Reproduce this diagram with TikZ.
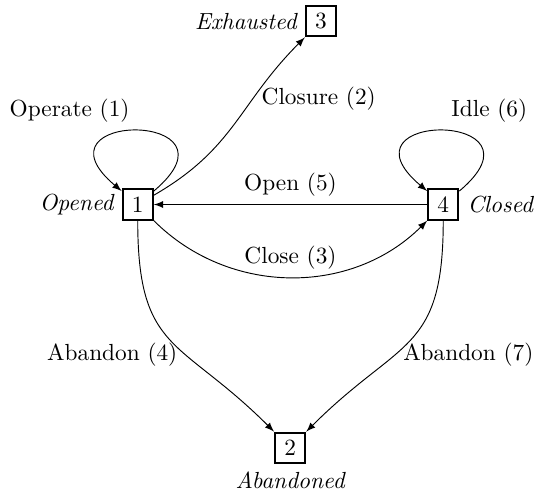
\documentclass[tikz,border=0pt]{standalone}
\usetikzlibrary{arrows,positioning}
\tikzset{statebox/.style={rectangle,draw,thick,minimum size=13pt,inner sep=0pt}}
\tikzset{tagname/.style={font=\itshape}}
\tikzset{trans/.style={draw,->,>=latex}}
\begin{document}
\begin{tikzpicture}[node distance=4.61cm]
    \useasboundingbox (-2.078,-4.323) rectangle (6.10,3.086);
    \node[statebox] (n1) {1};
    \node[statebox,right of=n1] (n4) {4};
    \node[statebox,above right of=n1,node distance=3.91cm] (n3) {3};
    \node[statebox,below of=n1,node distance=3.67cm,xshift=2.30cm] (n2) {2};

     \node[tagname,left=0pt of n1] (lopened) {Opened};
     \node[tagname,right=0pt of n4] (lclosed) {Closed};
     \node[tagname,left=0pt of n3] (lexhausted) {Exhausted};
     \node[tagname,below=0pt of n2] (labandoned) {Abandoned};

        \path[trans] (n1) to[out=40,in=140,looseness=10] node[above left] {Operate (1)} (n1);
        \path[trans] (n4) to[out=40,in=140,looseness=10] node[above right] {Idle (6)} (n4);
        \path[trans] (n1) to[out=30,in=-135,looseness=1.1] node[right,pos=0.66] {Closure (2)} (n3);
        \path[trans] (n4) -- node[above] {Open (5)} (n1);
        \path[trans] (n1) to[bend right=45] node[above] {Close (3)} (n4);
        \path[trans] (n1) to[out=-90,in=135,looseness=1.35] node[left,pos=0.6] {Abandon (4)} (n2);
        \path[trans] (n4) to[out=-90,in=45,looseness=1.35] node[right,pos=0.6] {Abandon (7)} (n2);
  \end{tikzpicture}
\end{document}
